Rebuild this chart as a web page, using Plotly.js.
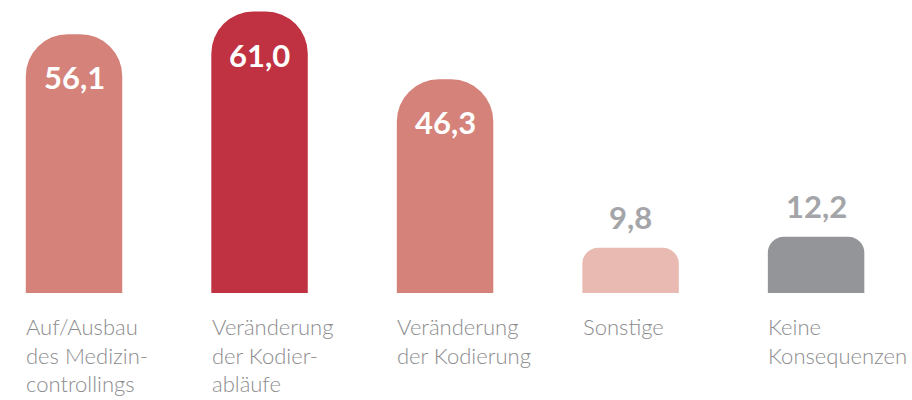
<!DOCTYPE html>
<html>
<head>
<meta charset="utf-8">
<script src="https://cdn.plot.ly/plotly-3.0.1.min.js"></script>
<style>html,body{margin:0;padding:0;background:#fff;}#chart{width:912px;height:400px;}</style>
</head>
<body>
<div id="chart"></div>
<script>
const categories = ["Auf/Ausbau des Medizincontrollings", "Veränderung der Kodierabläufe", "Veränderung der Kodierung", "Sonstige", "Keine Konsequenzen"];
const tickLabels = ["Auf/Ausbau<br>des Medizin-<br>controllings", "Veränderung<br>der Kodier-<br>abläufe", "Veränderung<br>der Kodierung", "Sonstige", "Keine<br>Konsequenzen"];
const values = [56.1, 61.0, 46.3, 9.8, 12.2];
const valueLabels = ["56,1", "61,0", "46,3", "9,8", "12,2"];

const barColors = ["#d5837a", "#c03242", "#d5837a", "#e9bab2", "#949599"];
const labelInside = [true, true, true, false, false];

const traces = categories.map((c, i) => ({
  type: "bar",
  x: [c],
  y: [values[i]],
  width: 0.52,
  marker: { color: barColors[i], cornerradius: values[i] > 20 ? 42 : 16, line: { width: 0 } },
  hoverinfo: "skip",
  showlegend: false
}));

const annotations = [];
categories.forEach((c, i) => {
  annotations.push({
    x: c, y: values[i], xref: "x", yref: "y",
    text: valueLabels[i],
    showarrow: false,
    xanchor: "center",
    yanchor: labelInside[i] ? "top" : "bottom",
    yshift: labelInside[i] ? -22 : 10,
    font: { family: "Lato, 'Open Sans', sans-serif", size: 31, weight: 700, color: labelInside[i] ? "#ffffff" : "#a4a5a8" }
  });
  annotations.push({
    x: c, y: 0, xref: "x", yref: "y",
    text: tickLabels[i],
    showarrow: false,
    xanchor: "left",
    yanchor: "top",
    align: "left",
    xshift: -50,
    yshift: -18,
    font: { family: "Lato, 'Open Sans', sans-serif", size: 22, weight: 300, color: "#8c8c8e" }
  });
});

const layout = {
  width: 912, height: 400,
  margin: { l: 0, r: 0, t: 0, b: 107, pad: 0 },
  paper_bgcolor: "#ffffff", plot_bgcolor: "#ffffff",
  barmode: "overlay",
  xaxis: { type: "category", range: [-0.399, 4.517], visible: false, fixedrange: true },
  yaxis: { range: [0, 63.5], visible: false, fixedrange: true },
  annotations: annotations
};

Plotly.newPlot("chart", traces, layout, { displayModeBar: false, staticPlot: true });
</script>
</body>
</html>
